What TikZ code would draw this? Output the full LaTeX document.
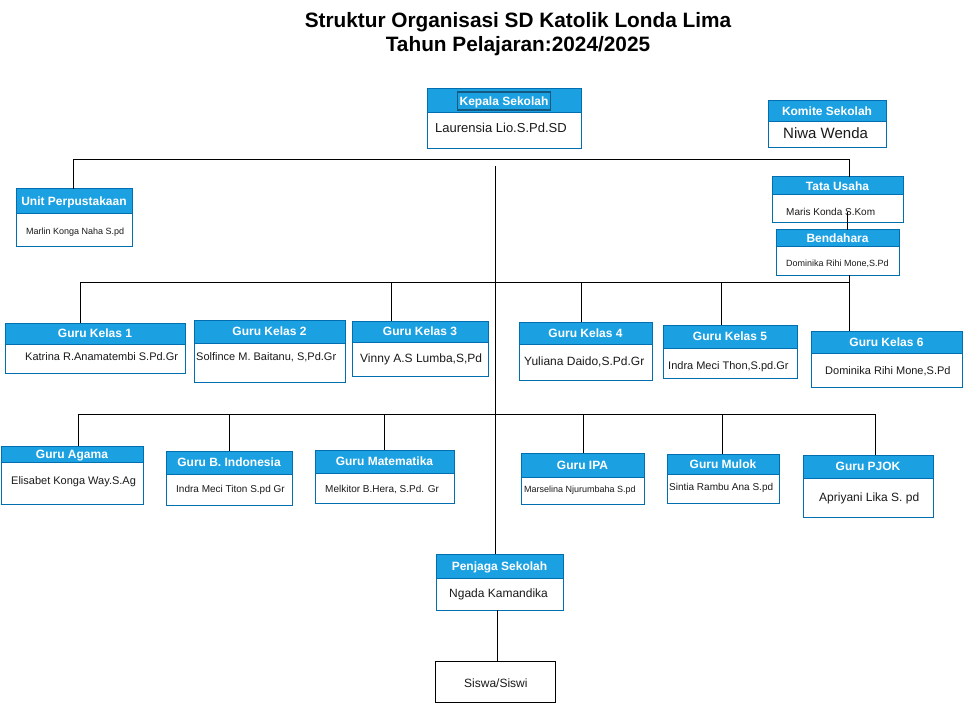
\documentclass[tikz,border=0pt]{standalone}
\usepackage{fontspec}
\setmainfont{Liberation Sans}
\definecolor{hdr}{HTML}{1BA1E2}
\definecolor{bdr}{HTML}{006EAF}
\definecolor{txt}{HTML}{1A1A1A}
\definecolor{hl}{HTML}{145A80}
\newcommand\fsz[1]{\fontsize{#1}{#1}\selectfont}
\tikzset{
  bodybox/.style={draw=bdr, line width=1pt, fill=white, inner sep=0pt, outer sep=0pt},
  hdrbox/.style={draw=bdr, line width=1pt, fill=hdr, inner sep=0pt, outer sep=0pt},
  hdrtext/.style={text=white, font=\bfseries\fsz{12}, inner sep=0pt, text height=8.6pt, text depth=0pt},
  bodytext/.style={text=txt, anchor=west, inner sep=0pt},
  conn/.style={draw=black, line width=1pt},
  titletext/.style={text=black, font=\bfseries\fsz{20.8}, inner sep=0pt},
}
\newcommand\orgbox[7]{%
  \pgfmathsetmacro\obw{#4-#2}%
  \pgfmathsetmacro\obh{#5-#3}%
  \pgfmathsetmacro\ohh{#6-#3}%
  \node[bodybox, minimum width=\obw pt, minimum height=\obh pt, anchor=north west] (#1) at (#2,#3) {};
  \node[hdrbox, minimum width=\obw pt, minimum height=\ohh pt, anchor=north west] (#1-h) at (#2,#3) {};
  \node[hdrtext] (#1-ht) at (#1-h.center) {#7};
}
\begin{document}
\begin{tikzpicture}[x=1pt,y=-1pt]
\fill[white] (0,0) rectangle (963,703);
\useasboundingbox (0,0) rectangle (963,703);

% title
\node[titletext] (title1) at (518,22) {Struktur Organisasi SD Katolik Londa Lima};
\node[titletext] (title2) at (518,46) {Tahun Pelajaran:2024/2025};

% coordinates for connectors
\coordinate (t1) at (73,160);
\coordinate (t2) at (849,160);
\coordinate (tb) at (847,212);
\coordinate (c0) at (495,166);
\coordinate (k0) at (80,282);
\coordinate (k2) at (391,282);
\coordinate (k3) at (581,282);
\coordinate (k4) at (721,282);
\coordinate (k5) at (849,282);
\coordinate (g0) at (78,414);
\coordinate (g1) at (229,414);
\coordinate (g2) at (384,414);
\coordinate (g3) at (583,414);
\coordinate (g4) at (722,414);
\coordinate (g5) at (875,414);
\coordinate (ps) at (497,610);

% boxes
\orgbox{ks}{427}{89}{581}{149}{113}{}
\node[hdrtext, draw=hl, line width=1.5pt, fill=hdr, inner xsep=2pt, inner ysep=4.7pt] (ks-hl) at (ks-h.center) {Kepala Sekolah};
\node[bodytext, font=\fsz{13}] (ks-t) at (435,128) {Laurensia Lio.S.Pd.SD};

\orgbox{km}{768}{101}{886}{148}{122}{Komite Sekolah}
\node[bodytext, font=\fsz{15}] (km-t) at (783,133) {Niwa Wenda};

\orgbox{up}{16}{189}{132}{247}{214}{Unit Perpustakaan}
\node[bodytext, font=\fsz{9}] (up-t) at (26,232) {Marlin Konga Naha S.pd};

\orgbox{tu}{772}{177}{903}{223}{195}{Tata Usaha}
\node[bodytext, font=\fsz{10}] (tu-t) at (786,212) {Maris Konda S.Kom};

\orgbox{bd}{776}{230}{899}{275}{247}{Bendahara}
\node[bodytext, font=\fsz{9}] (bd-t) at (786,264) {Dominika Rihi Mone,S.Pd};

\orgbox{gk1}{5}{323}{185}{373}{344}{Guru Kelas 1}
\node[bodytext, font=\fsz{11}] (gk1-t) at (25,357) {Katrina R.Anamatembi S.Pd.Gr};
\orgbox{gk2}{194}{320}{345}{382}{343}{Guru Kelas 2}
\node[bodytext, font=\fsz{11}] (gk2-t) at (196,357) {Solfince M. Baitanu, S,Pd.Gr};
\orgbox{gk3}{352}{321}{488}{376}{342}{Guru Kelas 3}
\node[bodytext, font=\fsz{12}] (gk3-t) at (360,359) {Vinny A.S Lumba,S,Pd};
\orgbox{gk4}{519}{322}{652}{380}{344}{Guru Kelas 4}
\node[bodytext, font=\fsz{12}] (gk4-t) at (524,362) {Yuliana Daido,S.Pd.Gr};
\orgbox{gk5}{663}{325}{797}{378}{348}{Guru Kelas 5}
\node[bodytext, font=\fsz{11}] (gk5-t) at (668,367) {Indra Meci Thon,S.pd.Gr};
\orgbox{gk6}{811}{331}{962}{387}{353}{Guru Kelas 6}
\node[bodytext, font=\fsz{11}] (gk6-t) at (825,371) {Dominika Rihi Mone,S.Pd};

\orgbox{ga}{1}{446}{143}{504}{462}{Guru Agama}
\node[bodytext, font=\fsz{11}] (ga-t) at (11,482) {Elisabet Konga Way.S.Ag};
\orgbox{gb}{166}{451}{292}{505}{474}{Guru B. Indonesia}
\node[bodytext, font=\fsz{10}] (gb-t) at (176,490) {Indra Meci Titon S.pd Gr};
\orgbox{gm}{315}{450}{454}{503}{473}{Guru Matematika}
\node[bodytext, font=\fsz{10}] (gm-t) at (325,490) {Melkitor B.Hera, S.Pd. Gr};
\orgbox{gi}{521}{453}{644}{504}{477}{Guru IPA}
\node[bodytext, font=\fsz{9}] (gi-t) at (524,490) {Marselina Njurumbaha S.pd};
\orgbox{gl}{667}{454}{779}{503}{474}{Guru Mulok}
\node[bodytext, font=\fsz{10}] (gl-t) at (669,488) {Sintia Rambu Ana S.pd};
\orgbox{gp}{803}{455}{933}{517}{478}{Guru PJOK}
\node[bodytext, font=\fsz{12}] (gp-t) at (819,498) {Apriyani Lika S. pd};

\orgbox{pj}{436}{554}{563}{610}{578}{Penjaga Sekolah}
\node[bodytext, font=\fsz{12}] (pj-t) at (449,594) {Ngada Kamandika};

\node[draw=black, line width=1pt, fill=white, minimum width=120pt, minimum height=41pt, anchor=north west, inner sep=0pt, outer sep=0pt] (sw) at (435,661) {};
\node[bodytext, font=\fsz{12}] (sw-t) at (464,683) {Siswa/Siswi};

% connectors
\draw[conn] (t1 |- up.north) -- (t1) -- (t2) -- (t2 |- tu.north);
\draw[conn] (tb) -- (tb |- bd.north);
\draw[conn] (c0) -- (c0 |- pj.north);
\draw[conn] (k5 |- bd.south) -- (k5) -- (k0) -- (k0 |- gk1.north);
\draw[conn] (k2) -- (k2 |- gk3.north);
\draw[conn] (k3) -- (k3 |- gk4.north);
\draw[conn] (k4) -- (k4 |- gk5.north);
\draw[conn] (k5) -- (k5 |- gk6.north);
\draw[conn] (g0) -- (g5);
\draw[conn] (g0) -- (g0 |- ga.north);
\draw[conn] (g1) -- (g1 |- gb.north);
\draw[conn] (g2) -- (g2 |- gm.north);
\draw[conn] (g3) -- (g3 |- gi.north);
\draw[conn] (g4) -- (g4 |- gl.north);
\draw[conn] (g5) -- (g5 |- gp.north);
\draw[conn] (ps |- pj.south) -- (ps |- sw.north);
\end{tikzpicture}
\end{document}
